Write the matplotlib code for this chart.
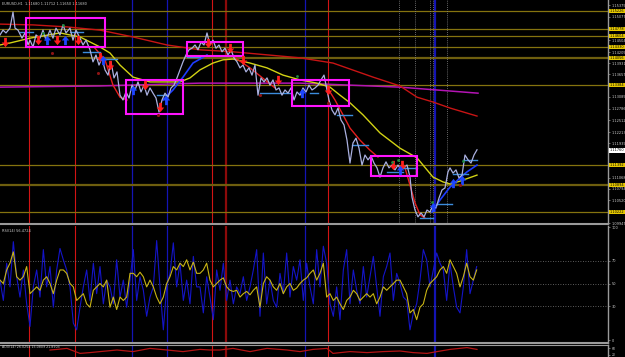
import matplotlib
matplotlib.use('Agg')
import matplotlib.pyplot as plt
import matplotlib.transforms as mtransforms
from matplotlib.patches import Rectangle
import numpy as np

W, H = 625, 357

# --- price (bar position, close) ---
price_x = [0, 3, 6, 10, 13, 15, 18, 22, 25, 28, 30, 33, 36, 40, 43, 46, 50, 53, 56, 60,
           63, 66, 70, 73, 76, 80, 83, 86, 90, 93, 96, 99, 102, 105, 108, 111, 114, 117, 120, 123,
           126, 129, 132, 135, 138, 141, 144, 147, 150, 153, 156, 159, 162, 165, 168, 171, 174, 177, 180, 183,
           186, 189, 192, 195, 198, 201, 204, 207, 210, 213, 216, 219, 222, 225, 228, 231, 234, 237, 240, 243,
           246, 249, 252, 255, 258, 261, 264, 267, 270, 273, 276, 279, 282, 285, 288, 291, 294, 297, 300, 303,
           306, 309, 312, 315, 318, 321, 324, 327, 329, 332, 335, 338, 341, 344, 347, 350, 353, 356, 359, 362,
           365, 368, 371, 374, 377, 380, 383, 386, 389, 392, 395, 398, 401, 404, 407, 410, 412, 415, 418, 421,
           424, 427, 430, 433, 436, 439, 442, 445, 448, 450, 453, 456, 459, 462, 465, 468, 471, 474, 477]
price_y = [1.1463, 1.1475, 1.1468, 1.1480, 1.1520, 1.1480, 1.1475, 1.1455, 1.1468, 1.1438,
           1.1450, 1.1433, 1.1463, 1.1455, 1.1475, 1.1450, 1.1475, 1.1455, 1.1480, 1.1463,
           1.1488, 1.1468, 1.1480, 1.1450, 1.1475, 1.1455, 1.1438, 1.1450, 1.1426, 1.1396,
           1.1413, 1.1388, 1.1406, 1.1376, 1.1363, 1.1396, 1.1356, 1.1371, 1.1313, 1.1301,
           1.1321, 1.1306, 1.1338, 1.1326, 1.1346, 1.1321, 1.1338, 1.1313, 1.1331, 1.1318,
           1.1306, 1.1271, 1.1301, 1.1318, 1.1308, 1.1331, 1.1338, 1.1356, 1.1376, 1.1396,
           1.1413, 1.1426, 1.1430, 1.1438, 1.1426, 1.1445, 1.1438, 1.1468, 1.1438, 1.1450,
           1.1430, 1.1438, 1.1421, 1.1430, 1.1413, 1.1426, 1.1406, 1.1396, 1.1381, 1.1388,
           1.1371, 1.1381, 1.1363, 1.1388, 1.1313, 1.1356, 1.1346, 1.1356, 1.1338, 1.1351,
           1.1326, 1.1331, 1.1313, 1.1326, 1.1318, 1.1331, 1.1301, 1.1321, 1.1313, 1.1331,
           1.1321, 1.1338, 1.1326, 1.1331, 1.1338, 1.1351, 1.1363, 1.1326, 1.1301, 1.1276,
           1.1264, 1.1281, 1.1251, 1.1239, 1.1201, 1.1144, 1.1194, 1.1206, 1.1181, 1.1139,
           1.1164, 1.1152, 1.1162, 1.1144, 1.1132, 1.1109, 1.1132, 1.1147, 1.1132, 1.1139,
           1.1127, 1.1139, 1.1127, 1.1134, 1.1139, 1.1109, 1.1059, 1.1027, 1.1010, 1.1020,
           1.1010, 1.1027, 1.1022, 1.1039, 1.1032, 1.1057, 1.1077, 1.1082, 1.1122, 1.1132,
           1.1119, 1.1127, 1.1107, 1.1114, 1.1164, 1.1152, 1.1144, 1.1164, 1.1177]

# moving averages
ma_slow_x = [0, 33, 67, 100, 133, 167, 200, 233, 300, 333, 373, 400, 417, 433, 450, 477]
ma_slow_y = [1.1490, 1.1488, 1.1483, 1.1475, 1.1458, 1.1438, 1.1426, 1.1421, 1.1406, 1.1393,
             1.1358, 1.1336, 1.1308, 1.1296, 1.1281, 1.1261]
ma_flat_x = [0, 100, 200, 300, 400, 478]
ma_flat_y = [1.1333, 1.1336, 1.1343, 1.1343, 1.1333, 1.1318]
ma_mid_x = [0, 10, 30, 60, 80, 100, 110, 120, 133, 150, 167, 180, 190, 200, 213, 223, 233, 250,
            267, 283, 300, 317, 330, 340, 350, 363, 380, 400, 417, 427, 433, 443, 450, 460, 477]
ma_mid_y = [1.1438, 1.1443, 1.1455, 1.1468, 1.1458, 1.1433, 1.1418, 1.1388, 1.1358, 1.1346,
            1.1346, 1.1346, 1.1356, 1.1376, 1.1393, 1.1401, 1.1403, 1.1393, 1.1381, 1.1363,
            1.1351, 1.1343, 1.1333, 1.1313, 1.1294, 1.1264, 1.1219, 1.1181, 1.1157, 1.1127,
            1.1109, 1.1097, 1.1092, 1.1099, 1.1114]

fast_down = [
    ([95, 105, 113, 120, 127], [1.1430, 1.1401, 1.1338, 1.1308, 1.1301]),
    ([235, 250, 265, 275], [1.1406, 1.1381, 1.1351, 1.1331]),
    ([327, 335, 343, 350, 360, 370, 378], [1.1333, 1.1301, 1.1264, 1.1231, 1.1201, 1.1176, 1.1159]),
    ([405, 410, 415, 420, 425], [1.1132, 1.1089, 1.1045, 1.1015, 1.1007]),
]
fast_up = [
    ([163, 173, 183, 193, 207], [1.1301, 1.1326, 1.1358, 1.1393, 1.1413]),
    ([432, 440, 450, 460, 467, 477], [1.1022, 1.1052, 1.1084, 1.1107, 1.1122, 1.1139]),
]

# short support segments
seg_x0 = [20, 70, 83, 97, 157, 187, 260, 310, 337, 352, 387, 400, 420, 437, 453, 463]
seg_x1 = [33, 83, 100, 117, 167, 200, 290, 318, 352, 368, 403, 417, 433, 452, 468, 477]
seg_p = [1.1470, 1.1470, 1.1421, 1.1403, 1.1313, 1.1408, 1.1318, 1.1318, 1.1264, 1.1189,
         1.1122, 1.1132, 1.1007, 1.1042, 1.1117, 1.1152]

# signal arrows
sell_x = [5, 38, 57, 78, 100, 110, 145, 160, 208, 230, 243, 278, 328, 393, 402]
sell_p = [1.1445, 1.1450, 1.1450, 1.1450, 1.1408, 1.1388, 1.1338, 1.1284, 1.1443, 1.1430,
          1.1401, 1.1351, 1.1326, 1.1139, 1.1139]
buy_x = [47, 65, 103, 133, 166, 302, 400, 433, 453, 462]
buy_p = [1.1450, 1.1450, 1.1401, 1.1326, 1.1301, 1.1318, 1.1127, 1.1035, 1.1094, 1.1102]
frac_hi_x = [43, 63, 297, 392, 398, 432, 463]
frac_hi_p = [1.1468, 1.1488, 1.1361, 1.1147, 1.1152, 1.1047, 1.1149]
frac_lo_x = [52, 98, 158, 260, 328, 460]
frac_lo_p = [1.1418, 1.1368, 1.1264, 1.1313, 1.1294, 1.1089]

# boxes
box_x0 = [26, 126, 187, 292, 371]
box_x1 = [105, 183, 243, 349, 417]
box_top = [1.1505, 1.1351, 1.1445, 1.1351, 1.1162]
box_bot = [1.1433, 1.1266, 1.1411, 1.1286, 1.1112]

# horizontal levels
levels = [1.15226, 1.14778, 1.14604, 1.14330, 1.14056, 1.13384, 1.11392, 1.10894, 1.10222]
level_thick = [False, False, False, False, True, False, False, True, False]

# vertical markers
vl_red = [29, 75, 212, 328]
vl_darkred = [226]
vl_blue = [132, 167, 305, 435]
vl_dot = [399, 415, 430, 433, 447]

main_ticks = [1.15375, 1.15077, 1.14504, 1.14205, 1.13931, 1.13657, 1.13085, 1.12786,
              1.12512, 1.12213, 1.11939, 1.11068, 1.10794, 1.10520, 1.09947]

# oscillator panel (uniform bars)
osc_fast = [53, 35, 68, 47, 87, 56, 38, 62, 32, 12, 47, 62, 38, 80, 47, 65, 29, 62, 81, 71,
            62, 47, 15, 9, 29, 47, 62, 35, 68, 41, 65, 32, 53, 47, 32, 71, 38, 53, 29, 53,
            80, 35, 56, 44, 21, 38, 47, 88, 47, 9, 47, 59, 86, 47, 68, 35, 53, 32, 74, 47,
            47, 24, 56, 38, 18, 62, 44, 68, 35, 53, 32, 47, 41, 56, 35, 47, 62, 80, 21, 77,
            32, 53, 35, 29, 59, 41, 77, 38, 65, 53, 71, 35, 68, 47, 32, 80, 47, 83, 68, 32,
            21, 47, 18, 62, 80, 32, 62, 44, 32, 65, 38, 56, 74, 47, 21, 56, 65, 77, 35, 59,
            50, 38, 35, 9, 24, 32, 53, 80, 71, 47, 62, 77, 68, 62, 35, 68, 47, 29, 24, 47,
            80, 41, 53, 65]
osc_slow = [53, 50, 62, 68, 78, 56, 53, 56, 65, 41, 44, 47, 44, 53, 56, 50, 41, 53, 62, 62,
            59, 50, 47, 35, 38, 41, 32, 29, 44, 47, 50, 47, 53, 29, 38, 27, 38, 35, 38, 59,
            59, 56, 60, 56, 47, 53, 47, 38, 32, 38, 50, 56, 65, 62, 68, 65, 71, 62, 69, 59,
            59, 62, 68, 53, 47, 50, 53, 55, 47, 44, 43, 44, 38, 41, 43, 40, 44, 47, 29, 50,
            56, 53, 47, 44, 50, 41, 47, 50, 44, 46, 50, 53, 55, 59, 62, 53, 59, 68, 38, 41,
            35, 38, 32, 27, 35, 38, 44, 41, 35, 38, 41, 38, 41, 32, 38, 47, 44, 47, 50, 53,
            53, 47, 41, 24, 27, 18, 29, 32, 44, 50, 53, 56, 62, 65, 59, 71, 65, 59, 47, 56,
            68, 56, 53, 62]
osc_levels = [30, 50, 70]

# bottom panel
adx_x = [50, 57, 67, 80, 90, 100, 117, 133, 150, 167, 183, 200, 210, 220, 233, 250, 267, 287,
         300, 313, 327, 333, 350, 367, 383, 400, 413, 427, 437, 450, 467, 477]
adx_y = [35, 38, 43, 18, 22, 27, 35, 27, 43, 35, 27, 38, 35, 35, 43, 27, 43, 35,
         27, 38, 43, 18, 27, 22, 27, 30, 22, 18, 27, 38, 47, 38]

BG = 'black'
GRID = '#9a9a9a'
TXT = '#d0d0d0'
FS = 2.5

fig = plt.figure(figsize=(W / 100, H / 100), dpi=100, facecolor=BG)


def px_axes(top, bottom):
    return fig.add_axes([0, (H - bottom) / H, 608 / W, (bottom - top) / H], facecolor=BG)


ax = px_axes(0, 224)
ax2 = px_axes(226, 343)
ax3 = px_axes(345, 357)

for a in (ax, ax2, ax3):
    for s in a.spines.values():
        s.set_visible(False)
    a.spines['right'].set_visible(True)
    a.spines['right'].set_color(GRID)
    a.spines['right'].set_linewidth(1.0)
    a.set_xlim(0, 608)
    a.set_xticks([])
    a.yaxis.tick_right()
    a.tick_params(axis='y', colors=GRID, labelcolor=TXT, labelsize=FS, length=1.5, width=0.5, pad=1)
    for v in vl_red:
        a.axvline(v, color='#d21414', lw=0.8, zorder=1)
    for v in vl_darkred:
        a.axvline(v, color='#8c0a0a', lw=1.6, zorder=1)
    for v in vl_blue:
        a.axvline(v, color='#1414b4', lw=0.9 if v != 435 else 1.6, zorder=1)

ax.spines['bottom'].set_visible(True)
ax.spines['bottom'].set_color(GRID)
ax.spines['bottom'].set_linewidth(1.5)
ax2.spines['bottom'].set_visible(True)
ax2.spines['bottom'].set_color(GRID)
ax2.spines['bottom'].set_linewidth(1.5)

# ---- main chart ----
ax.set_ylim(1.099224, 1.1550)
for lv, thick in zip(levels, level_thick):
    ax.axhline(lv, color='#6e5e0e' if thick else '#85730f', lw=1.6 if thick else 0.9, zorder=1)
for v in vl_dot:
    ax.axvline(v, color='#8a8a8a', lw=0.6, ls=(0, (1, 1.5)), zorder=1)

ax.set_yticks(main_ticks)
ax.set_yticklabels(['%.5f' % t for t in main_ticks])

ax.plot(ma_flat_x, ma_flat_y, color='#b414b4', lw=1.1, zorder=2)
ax.plot(ma_slow_x, ma_slow_y, color='#c81414', lw=1.0, zorder=2)
ax.plot(ma_mid_x, ma_mid_y, color='#d2d214', lw=1.0, zorder=2)
for sx, sy in fast_down:
    ax.plot(sx, sy, color='#e61e1e', lw=1.0, zorder=3)
for sx, sy in fast_up:
    ax.plot(sx, sy, color='#1e3cff', lw=1.2, zorder=3)
for x0, x1, p in zip(seg_x0, seg_x1, seg_p):
    ax.plot([x0, x1], [p, p], color='#3c8cdc', lw=1.0, zorder=3)

ax.plot(price_x, price_y, color='#aab0e0', lw=0.9, zorder=4)

for x0, x1, t, b in zip(box_x0, box_x1, box_top, box_bot):
    ax.add_patch(Rectangle((x0, b), x1 - x0, t - b, fill=False, ec='#ff14ff', lw=1.5, zorder=5))

down_arrow = [(-0.3, 1), (0.3, 1), (0.3, 0), (0.8, 0), (0, -1), (-0.8, 0), (-0.3, 0), (-0.3, 1)]
up_arrow = [(x, -y) for x, y in down_arrow]
ax.scatter(sell_x, sell_p, marker=down_arrow, s=45, c='#ff1e1e', lw=0, zorder=6)
ax.scatter(buy_x, buy_p, marker=up_arrow, s=45, c='#1e46ff', lw=0, zorder=6)
ax.scatter(frac_hi_x, frac_hi_p, marker='o', s=4, c='#1e8c3c', lw=0, zorder=6)
ax.scatter(frac_lo_x, frac_lo_p, marker='o', s=5, c='#8c1414', lw=0, zorder=6)

trans = mtransforms.blended_transform_factory(ax.transAxes, ax.transData)
for lv in levels:
    ax.text(1.003, lv, '%.5f' % lv, transform=trans, fontsize=FS, color='black', va='center',
            ha='left', zorder=10, clip_on=False,
            bbox=dict(boxstyle='square,pad=0.1', fc='#e6c800', ec='none'))
last = price_y[-1] - 0.0001
ax.text(1.003, last, '%.5f' % last, transform=trans, fontsize=FS, color='black', va='center',
        ha='left', zorder=10, clip_on=False,
        bbox=dict(boxstyle='square,pad=0.1', fc='white', ec='none'))
ax.text(2, 1.1545, 'EURUSD,H1  1.11680 1.11712 1.11650 1.11680', fontsize=2.5, color=TXT,
        va='top', ha='left')

# ---- oscillator ----
ax2.set_ylim(-2.65, 100.9)
osc_x = np.arange(len(osc_fast)) * 10 / 3
ax2.plot(osc_x, osc_fast, color='#1414c8', lw=0.8, zorder=3)
ax2.plot(osc_x, osc_slow, color='#c8b414', lw=0.8, zorder=4)
for lv in osc_levels:
    ax2.axhline(lv, color='#7a7a7a', lw=0.6, ls=(0, (1, 2)), zorder=2)
ax2.set_yticks([0, 30, 50, 70, 100])
ax2.set_yticklabels(['0', '30', '50', '70', '100'])
ax2.text(2, 98, 'RSI(14) 56.4724', fontsize=2.5, color=TXT, va='top', ha='left')

# ---- bottom panel ----
ax3.set_ylim(0, 60)
ax3.plot(adx_x, adx_y, color='#b41414', lw=0.9, zorder=3)
ax3.set_yticks([12, 45])
ax3.set_yticklabels(['20', '60'])
ax3.tick_params(axis='y', labelsize=2.2)
ax3.spines['top'].set_visible(True)
ax3.spines['top'].set_color(GRID)
ax3.text(2, 58, 'ADX(14) 26.0254 15.0809 21.8903', fontsize=2.3, color=TXT, va='top', ha='left')

fig.savefig('out.png', dpi=100, facecolor=BG)
